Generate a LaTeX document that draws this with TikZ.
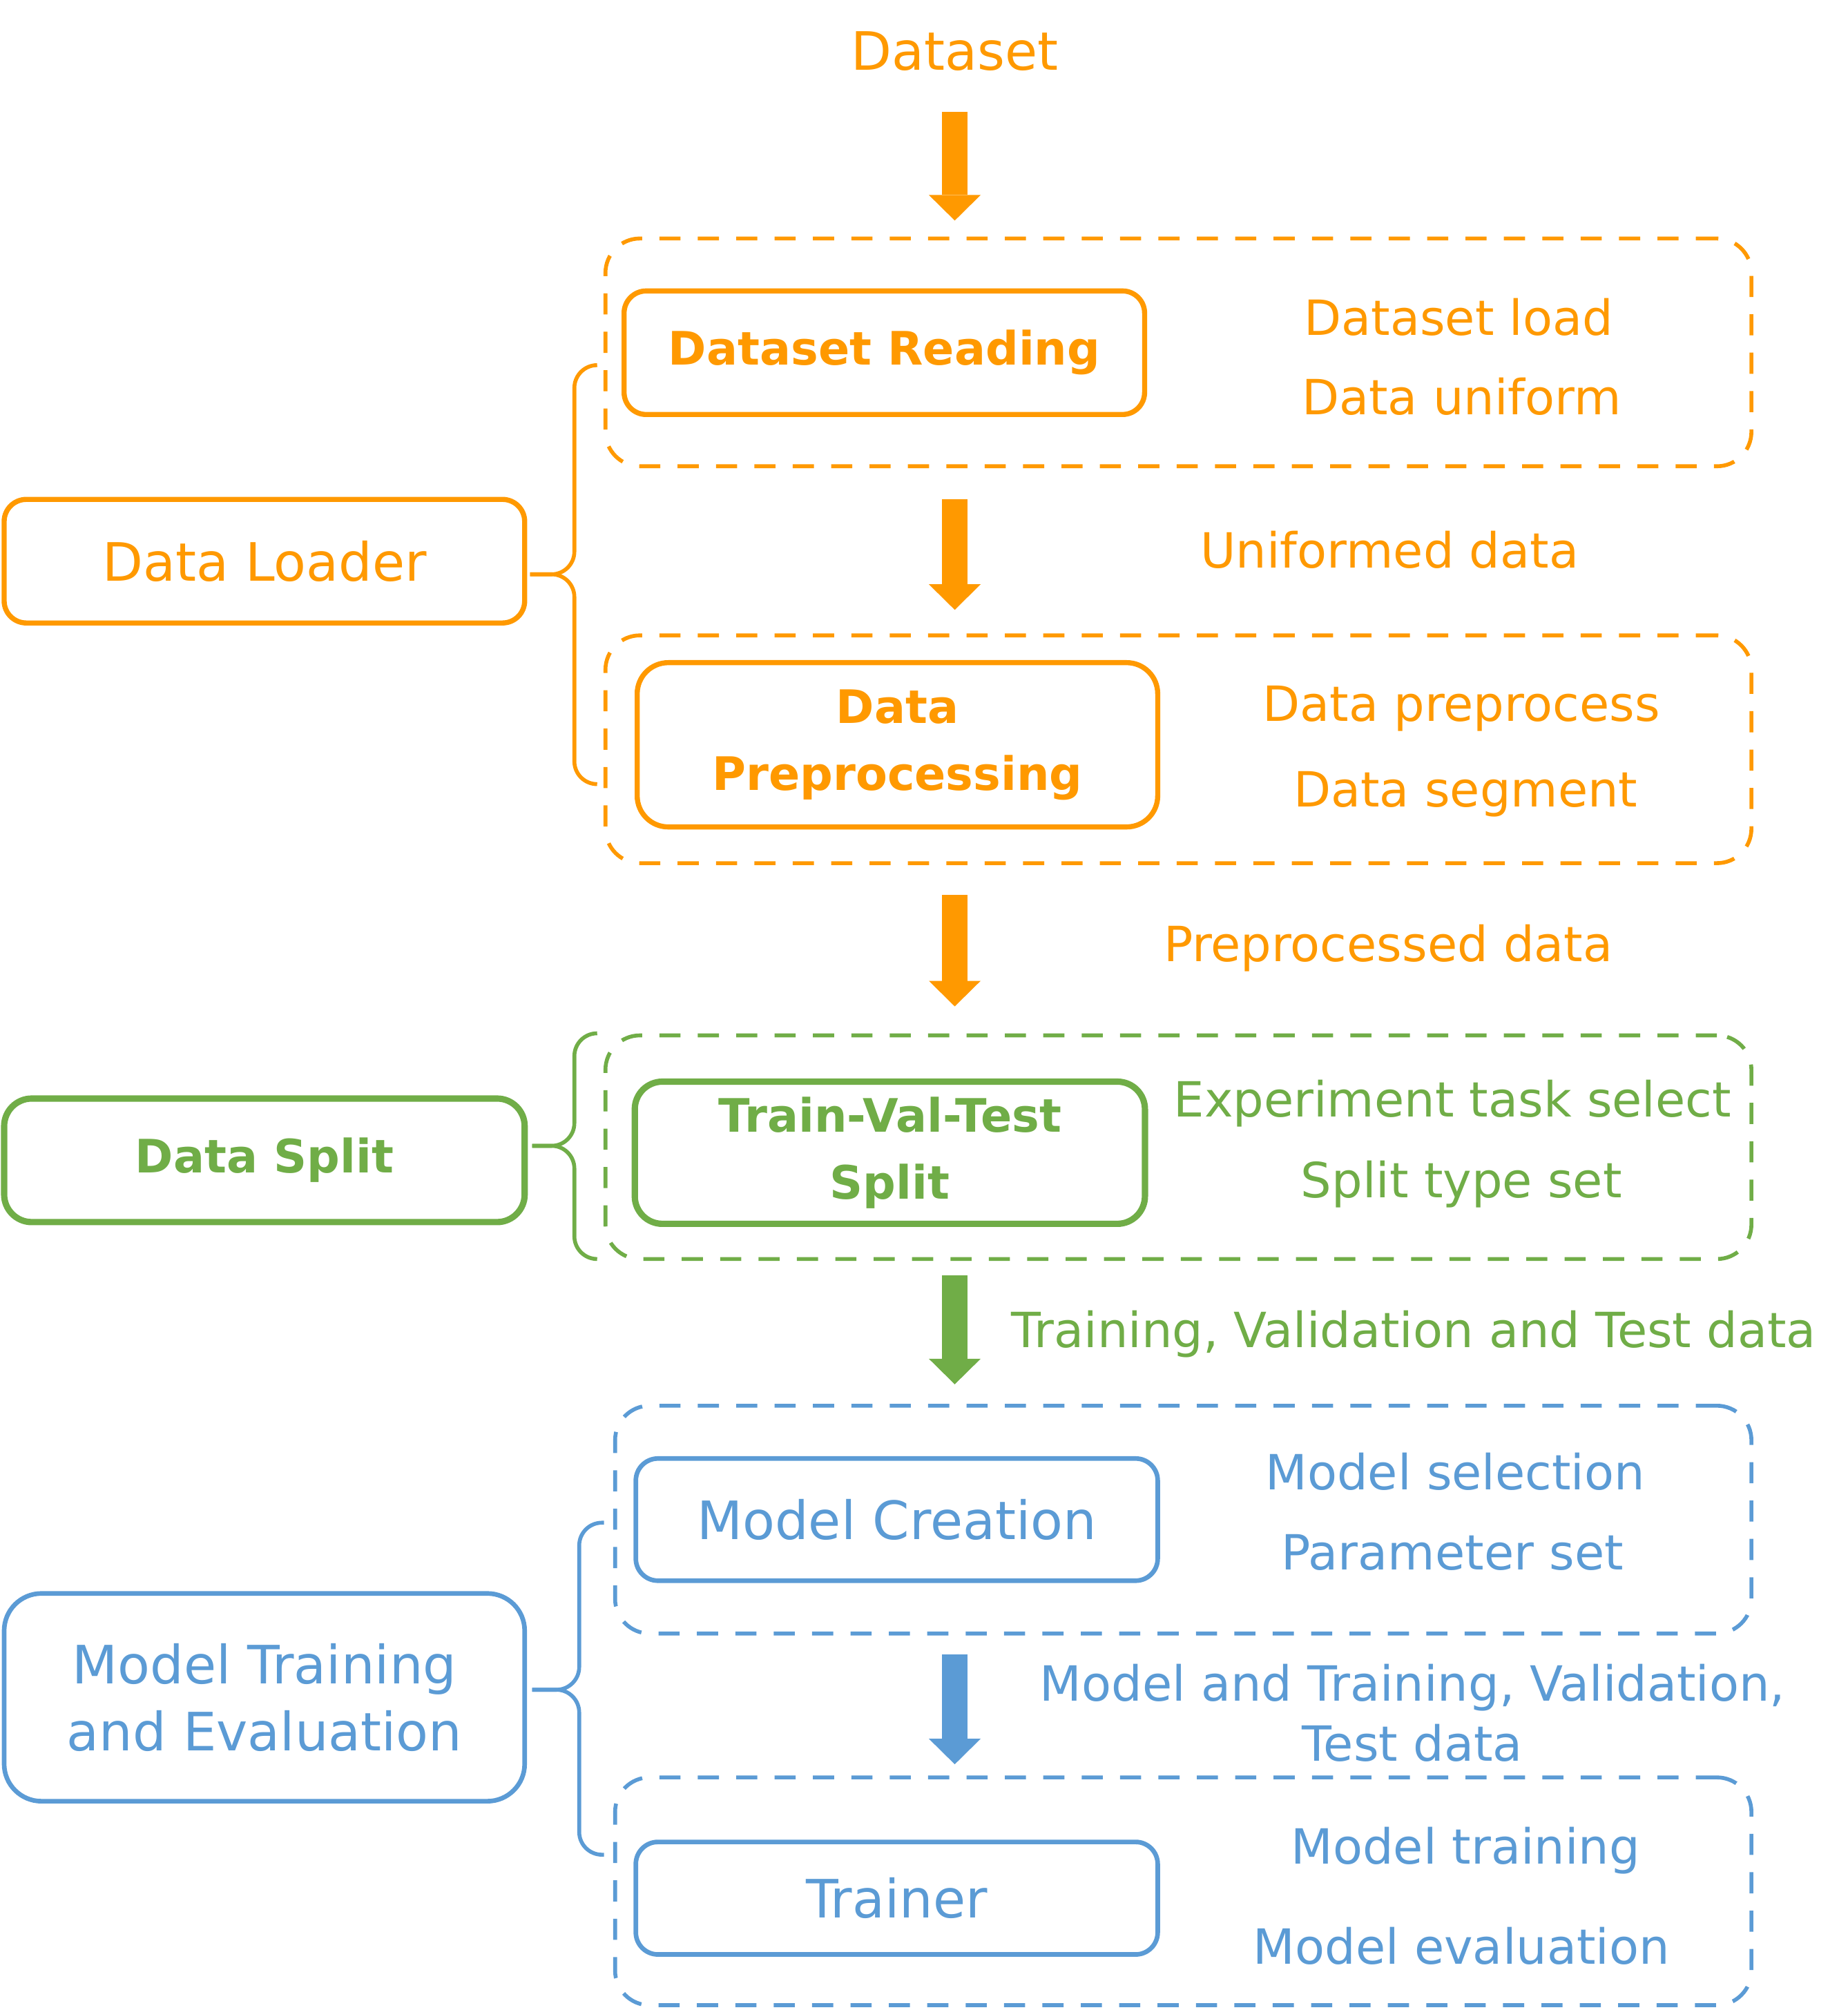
\documentclass[tikz,border=0pt]{standalone}
\usepackage{fontspec}
\setmainfont{DejaVu Sans}
\usetikzlibrary{arrows.meta}

\definecolor{loadorange}{RGB}{255,153,0}
\definecolor{splitgreen}{RGB}{112,173,71}
\definecolor{trainblue}{RGB}{91,155,213}

\begin{document}
\begin{tikzpicture}
		[font=\fontsize{20}{27.5}\selectfont,
		main box/.style={draw, rounded corners=0.32cm, line width=2.1pt, minimum width=7.54cm, minimum height=1.79cm, align=center, outer sep=0pt, font=\fontsize{21.8}{27.5}\selectfont},
		stage box/.style={main box, font=\fontsize{19}{27.5}\selectfont\bfseries},
		group box/.style={draw, dash pattern=on 3.06mm off 2.5mm, rounded corners=0.5cm, line width=1.6pt, minimum width=16.6cm, minimum height=3.3cm, outer sep=0pt},
		flow/.style={line width=0.37cm, -{Triangle[width=0.75cm, length=0.37cm, line width=0pt]}},
		brace/.style={line width=1.6pt, rounded corners=0.33cm}]
		\path[use as bounding box] (0,0) rectangle (26.76,-29.12);

		\node[loadorange, font=\fontsize{21.8}{27.5}\selectfont] (dataset) at (13.83,-0.74) {Dataset};

		\node[group box, loadorange] (group1) at (17.07,-5.105) {};
		\node[group box, loadorange] (group2) at (17.07,-10.855) {};
		\node[group box, splitgreen, minimum height=3.24cm] (group3) at (17.07,-16.62) {};
		\node[group box, trainblue, minimum width=16.46cm] (group4) at (17.14,-22.015) {};
		\node[group box, trainblue, minimum width=16.46cm] (group5) at (17.14,-27.40) {};

		\node[stage box, loadorange] (reading) at (12.81,-5.11) {Dataset Reading};
		\node[stage box, loadorange, minimum height=2.38cm, rounded corners=0.45cm] (preprocessing) at (13.0,-10.79) {Data\\Preprocessing};
		\node[stage box, splitgreen, line width=2.6pt, minimum width=7.39cm, minimum height=2.06cm, rounded corners=0.4cm] (tvt) at (12.89,-16.70) {Train-Val-Test\\Split};
		\node[main box, trainblue, line width=1.9pt, minimum width=7.56cm, minimum height=1.77cm] (creation) at (12.99,-22.015) {Model Creation};
		\node[main box, trainblue, line width=1.9pt, minimum width=7.56cm, minimum height=1.63cm] (trainer) at (12.99,-27.50) {Trainer};

		\node[main box, loadorange] (loader) at (3.83,-8.13) {Data Loader};
		\node[stage box, splitgreen, line width=2.6pt, rounded corners=0.4cm] (split) at (3.83,-16.81) {Data Split};
		\node[main box, trainblue, line width=1.9pt, minimum height=3.01cm, rounded corners=0.54cm] (training) at (3.83,-24.59) {Model Training\\and Evaluation};

		\foreach \n/\x/\y/\c/\t in {load/21.13/-4.59/loadorange/Dataset load, uniform/21.17/-5.74/loadorange/Data uniform,
			preprocess/21.17/-10.27/loadorange/Data preprocess, segment/21.23/-11.51/loadorange/Data segment,
			taskselect/21.04/-15.99/splitgreen/Experiment task select, splittype/21.17/-17.16/splitgreen/Split type set,
			modelselect/21.08/-21.32/trainblue/Model selection, paramset/21.04/-22.49/trainblue/Parameter set,
			modeltrain/21.23/-26.81/trainblue/Model training, modeleval/21.17/-28.19/trainblue/Model evaluation}{
			\node[text=\c] (\n) at (\x,\y) {\t};
		}

		\node[loadorange] (uniformed) at (20.13,-7.97) {Uniformed data};
		\node[loadorange] (preprocessed) at (20.11,-13.74) {Preprocessed data};
		\node[splitgreen] (splitdata) at (20.48,-19.33) {Training, Validation and Test data};
		\node[trainblue, align=center] (modeldata) at (20.46,-24.82) {Model and Training, Validation,\\[-2.7pt]Test data};

		\draw[flow, loadorange, shorten <=0.88cm, shorten >=0.26cm] (dataset.center) -- (dataset.center |- group1.north);
		\foreach \from/\to/\c/\a/\b in {group1/group2/loadorange/0.48/0.37, group2/group3/loadorange/0.46/0.42,
			group3/group4/splitgreen/0.24/0.31, group4/group5/trainblue/0.30/0.19}{
			\draw[flow, \c, shorten <=\a cm, shorten >=\b cm] (dataset.center |- \from.south) -- (dataset.center |- \to.north);
		}

		\foreach \y in {-5.29,-11.36}{
			\draw[brace, loadorange] ([shift={(0.08,-0.19)}]loader.east) -| (8.32,\y) -- ++(0.33,0);
		}
		\foreach \y in {-14.97,-18.24}{
			\draw[brace, splitgreen] ([shift={(0.11,0.21)}]split.east) -| (8.32,\y) -- ++(0.33,0);
		}
		\foreach \y in {-22.06,-26.87}{
			\draw[brace, trainblue] ([shift={(0.11,0.11)}]training.east) -| (8.39,\y) -- ++(0.36,0);
		}
\end{tikzpicture}
\end{document}
